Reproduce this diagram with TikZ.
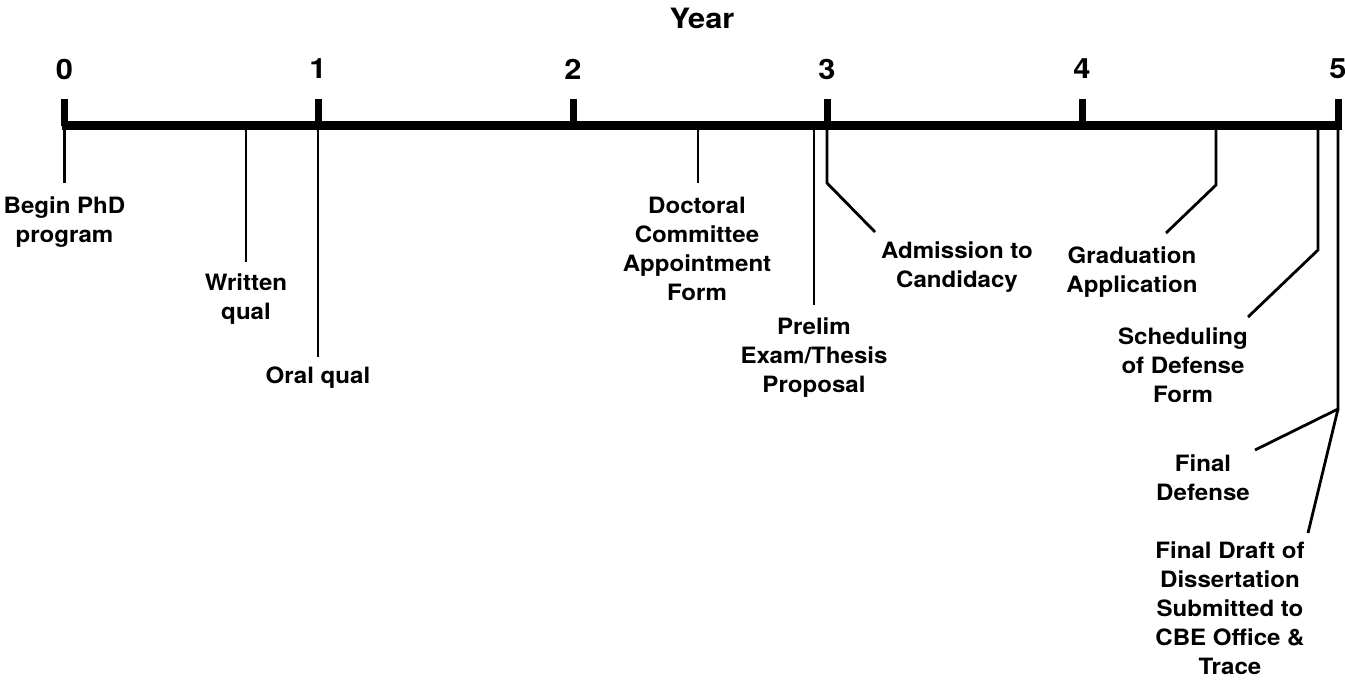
\documentclass[tikz,border=0pt]{standalone}
\usepackage{fontspec}
\setmainfont{TeX Gyre Heros}
\newfontfamily\lblfont[FakeStretch=1.07]{TeX Gyre Heros}
\newfontfamily\numfont[FakeStretch=1.1]{TeX Gyre Heros}
\begin{document}
\begin{tikzpicture}[x=1pt,y=-1pt,
  lbl/.style={font=\lblfont\fontsize{22.5}{29}\selectfont\bfseries, align=center, inner sep=0pt},
  num/.style={font=\numfont\fontsize{28}{30}\selectfont\bfseries, inner sep=0pt},
  axisline/.style={line width=9pt},
  tickline/.style={line width=7pt},
  conn/.style={line width=2.8pt}]
\useasboundingbox (0,0) rectangle (1345,681);
% axis
\coordinate (a0) at (64.5,125.5);
\coordinate (a1) at (318,125.5);
\coordinate (a2) at (573,125.5);
\coordinate (a3) at (827,125.5);
\coordinate (a4) at (1082,125.5);
\coordinate (a5) at (1338,125.5);
\coordinate (aL) at (62,125.5);
\coordinate (aR) at (1342,125.5);
\draw[axisline] (aL) -- (aR);
\foreach \i/\x in {0/64.5,1/318,2/573,3/827,4/1082,5/1338}{
  \coordinate (t\i) at (\x,99);
  \draw[tickline] (t\i) -- (a\i);
  \node[num] (n\i) at (\x,69) {\i};
}
\node[num] (year) at (702,18) {Year};
% labels
\node[lbl] (begin) at (64.5,222) {Begin PhD\\program};
\node[lbl] (written) at (246,299) {Written\\qual};
\node[lbl] (oral) at (318,378) {Oral qual};
\node[lbl] (doct) at (697,249) {Doctoral\\Committee\\Appointment\\Form};
\node[lbl] (prelim) at (814,357.5) {Prelim\\Exam/Thesis\\Proposal};
\node[lbl] (adm) at (957,267.5) {Admission to\\Candidacy};
\node[lbl] (grad) at (1132,272.5) {Graduation\\Application};
\node[lbl] (sched) at (1183,365) {Scheduling\\of Defense\\Form};
\node[lbl] (fdef) at (1203,477.5) {Final\\Defense};
\node[lbl] (fdraft) at (1230,608.5) {Final Draft of\\Dissertation\\Submitted to\\CBE Office \&\\Trace};
% connector points
\coordinate (pBeginA) at (64.5,125.5);
\coordinate (pBeginE) at (64.5,183);
\coordinate (pWrA) at (246,125.5);
\coordinate (pWrE) at (246,262);
\coordinate (pOrA) at (318,125.5);
\coordinate (pOrE) at (318,357);
\coordinate (pDoA) at (698,125.5);
\coordinate (pDoE) at (698,183);
\coordinate (pPrA) at (814,125.5);
\coordinate (pPrE) at (814,305);
\coordinate (pAdA) at (827,125.5);
\coordinate (pAdB) at (827,183);
\coordinate (pAdE) at (875,232);
\coordinate (pGrA) at (1216,125.5);
\coordinate (pGrB) at (1216,185);
\coordinate (pGrE) at (1166,233);
\coordinate (pScA) at (1318,125.5);
\coordinate (pScB) at (1318,250);
\coordinate (pScE) at (1248,317);
\coordinate (pFiA) at (1338,125.5);
\coordinate (pFiB) at (1338,409);
\coordinate (pFdE) at (1255,450);
\coordinate (pFrE) at (1308,533);
\draw[conn] (pBeginA) -- (pBeginE);
\draw[conn] (pWrA) -- (pWrE);
\draw[conn] (pOrA) -- (pOrE);
\draw[conn] (pDoA) -- (pDoE);
\draw[conn] (pPrA) -- (pPrE);
\draw[conn] (pAdA) -- (pAdB) -- (pAdE);
\draw[conn] (pGrA) -- (pGrB) -- (pGrE);
\draw[conn] (pScA) -- (pScB) -- (pScE);
\draw[conn] (pFiA) -- (pFiB) -- (pFdE);
\draw[conn] (pFiB) -- (pFrE);
\end{tikzpicture}
\end{document}
